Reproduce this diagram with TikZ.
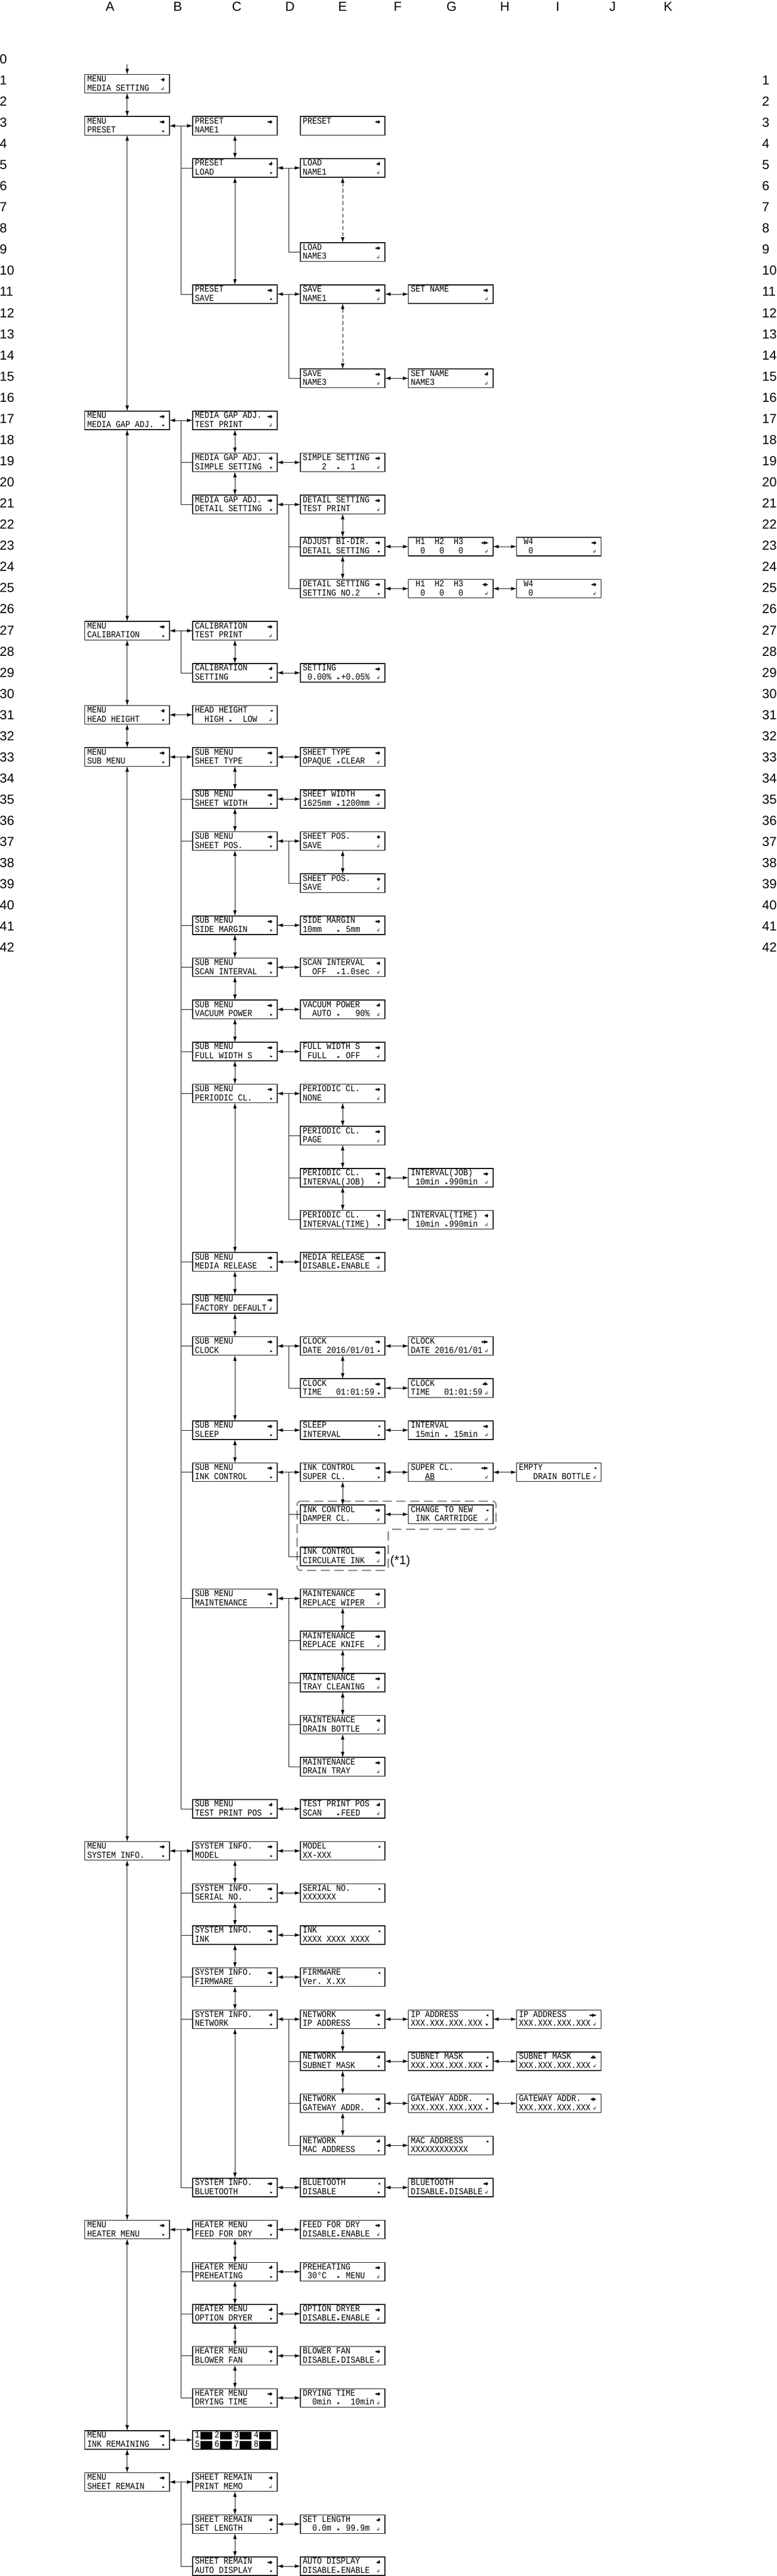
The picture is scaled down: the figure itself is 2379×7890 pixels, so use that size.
\documentclass[tikz,border=0pt]{standalone}
\usepackage{fontspec}
\setmainfont{Liberation Sans}
\newfontfamily\lcdf[FakeStretch=0.87]{Liberation Mono}
\newfontfamily\symf{DejaVu Sans}
\usetikzlibrary{arrows.meta,calc}
\newcommand\lcd{\lcdf\fontsize{28}{28}\selectfont}
\newcommand\sy{\symf\fontsize{14}{14}\selectfont}
\newcommand\lcdar{\makebox[15.14pt]{\symf\fontsize{14}{14}\selectfont ▸}}
\newcommand\udst{\ooalign{\raisebox{0.3em}{▴}\cr\raisebox{-0.15em}{▾}}}
\newcommand\iLR{◂\kern-1pt◆}
\newcommand\iUD{◂\kern-1pt\udst}
\newcommand\iL{◂}
\newcommand\iD{◆}
\newcommand\iLDR{◂\kern-1pt◆\kern-1pt▸}
\newcommand\iLUDR{◂\kern-1pt\udst\kern-1pt▸}
\newcommand\iR{▸}
\newcommand\iE{↲}
\newcommand\blk{\hspace{1.5pt}\rule[-5pt]{37pt}{23pt}\hspace{6.9pt}}
\def\cA{260}\def\cC{590}\def\cE{920}\def\cG{1251}\def\cI{1582}
\newcommand\bx[7]{%
  \node[lcdbox] (#1) at (#2+129.5,256.5+128.87*#3) {};
  \node[txt] (#1t1) at ([xshift=7pt,yshift=-22pt]#1.north west) {#4};
  \node[txt] (#1t2) at ([xshift=7pt,yshift=-50pt]#1.north west) {#5};
  \node[icn] (#1i1) at ([xshift=245pt,yshift=-21pt]#1.north west) {#6};
  \node[icn] (#1i2) at ([xshift=245pt,yshift=-49pt]#1.north west) {#7};
}
\newcommand\cvv[2]{\draw[dbl] (#1.south) -- (#2.north);}
\newcommand\chh[2]{\draw[dbl] (#1.east) -- (#2.west);}
\newcommand\trk[3]{\foreach \c in {#3}{\draw[ln] ($(#1.east)!0.5!(#2.west)$) |- (\c.west);}}
\tikzset{
 lcdbox/.style={draw, line width=2.2pt, minimum width=259pt, minimum height=57pt, inner sep=0pt, outer sep=0pt},
 txt/.style={anchor=base west, inner sep=0pt, font=\lcd},
 icn/.style={anchor=base east, inner sep=0pt, font=\sy},
 dbl/.style={{Latex[length=17pt,width=11pt]}-{Latex[length=17pt,width=11pt]}, line width=1.2pt},
 ln/.style={line width=1.1pt},
 dsh/.style={dbl, dash pattern=on 12pt off 7pt},
 grp/.style={draw=black!45, line width=4pt, dash pattern=on 28pt off 14pt, rounded corners=10pt},
 grid/.style={font=\fontsize{40}{40}\selectfont, inner sep=0pt},
}
\begin{document}
\begin{tikzpicture}[x=1pt,y=-1pt]
\fill[white] (0,0) rectangle (2379,7890);
\useasboundingbox (0,0) rectangle (2379,7890);
% grid references
\foreach \l/\x in {A/337,B/544,C/725,D/888,E/1049,F/1218,G/1383,H/1546,I/1708,J/1876,K/2046}
  \node[grid, anchor=base] (T\l) at (\x,33.5) {\l};
\foreach \k in {0,...,42}
  \node[grid, anchor=base west] (L\k) at (-1,194.5+64.8*\k) {\k};
\foreach \k in {1,...,42}
  \node[grid, anchor=base west] (R\k) at (2334,194.5+64.8*\k) {\k};
% dashed group
\draw[grp] (910,4598) -- (1519,4598) -- (1519,4684) -- (1189,4684) -- (1189,4810) -- (910,4810) -- cycle;
\node[anchor=west, inner sep=0pt, font=\fontsize{38}{38}\selectfont] (note1) at (1195,4782) {(*1)};
% boxes
\bx{A0}{\cA}{0}{MENU}{MEDIA~SETTING}{\iUD}{\iE}
\bx{A1}{\cA}{1}{MENU}{PRESET}{\iLR}{\iR}
\bx{C1}{\cC}{1}{PRESET}{NAME1}{\iLR}{}
\bx{E1}{\cE}{1}{PRESET}{}{\iLR}{}
\bx{C2}{\cC}{2}{PRESET}{LOAD}{\iUD}{\iR}
\bx{E2}{\cE}{2}{LOAD}{NAME1}{\iUD}{\iE}
\bx{E4}{\cE}{4}{LOAD}{NAME3}{\iLR}{\iE}
\bx{C5}{\cC}{5}{PRESET}{SAVE}{\iLR}{\iR}
\bx{E5}{\cE}{5}{SAVE}{NAME1}{\iLR}{\iE}
\bx{G5}{\cG}{5}{SET~NAME}{}{\iLR}{\iE}
\bx{E7}{\cE}{7}{SAVE}{NAME3}{\iLR}{\iE}
\bx{G7}{\cG}{7}{SET~NAME}{NAME3}{\iUD}{\iE}
\bx{A8}{\cA}{8}{MENU}{MEDIA~GAP~ADJ.}{\iLR}{\iR}
\bx{C8}{\cC}{8}{MEDIA~GAP~ADJ.}{TEST~PRINT}{\iLR}{\iE}
\bx{C9}{\cC}{9}{MEDIA~GAP~ADJ.}{SIMPLE~SETTING}{\iUD}{\iR}
\bx{E9}{\cE}{9}{SIMPLE~SETTING}{~~~~2~~\lcdar~~1}{\iLR}{\iE}
\bx{C10}{\cC}{10}{MEDIA~GAP~ADJ.}{DETAIL~SETTING}{\iLR}{\iR}
\bx{E10}{\cE}{10}{DETAIL~SETTING}{TEST~PRINT}{\iLR}{\iE}
\bx{E11}{\cE}{11}{ADJUST~BI-DIR.}{DETAIL~SETTING}{\iLR}{\iR}
\bx{G11}{\cG}{11}{~H1~~H2~~H3}{~~0~~~0~~~0}{\iLDR}{\iE}
\bx{I11}{\cI}{11}{~W4}{~~0}{\iLR}{\iE}
\bx{E12}{\cE}{12}{DETAIL~SETTING}{SETTING~NO.2}{\iLR}{\iR}
\bx{G12}{\cG}{12}{~H1~~H2~~H3}{~~0~~~0~~~0}{\iLUDR}{\iE}
\bx{I12}{\cI}{12}{~W4}{~~0}{\iLR}{\iE}
\bx{A13}{\cA}{13}{MENU}{CALIBRATION}{\iLR}{\iR}
\bx{C13}{\cC}{13}{CALIBRATION}{TEST~PRINT}{\iLR}{\iE}
\bx{C14}{\cC}{14}{CALIBRATION}{SETTING}{\iUD}{\iR}
\bx{E14}{\cE}{14}{SETTING}{~0.00\%~\lcdar+0.05\%}{\iLR}{\iE}
\bx{A15}{\cA}{15}{MENU}{HEAD~HEIGHT}{\iUD}{\iR}
\bx{C15}{\cC}{15}{HEAD~HEIGHT}{~~HIGH~\lcdar~~LOW}{\iL}{\iE}
\bx{A16}{\cA}{16}{MENU}{SUB~MENU}{\iLR}{\iR}
\bx{C16}{\cC}{16}{SUB~MENU}{SHEET~TYPE}{\iLR}{\iR}
\bx{E16}{\cE}{16}{SHEET~TYPE}{OPAQUE~\lcdar CLEAR}{\iLR}{\iE}
\bx{C17}{\cC}{17}{SUB~MENU}{SHEET~WIDTH}{\iLR}{\iR}
\bx{E17}{\cE}{17}{SHEET~WIDTH}{1625mm~\lcdar 1200mm}{\iLR}{\iE}
\bx{C18}{\cC}{18}{SUB~MENU}{SHEET~POS.}{\iLR}{\iR}
\bx{E18}{\cE}{18}{SHEET~POS.}{SAVE}{\iD}{\iE}
\bx{E19}{\cE}{19}{SHEET~POS.}{SAVE}{\iD}{\iE}
\bx{C20}{\cC}{20}{SUB~MENU}{SIDE~MARGIN}{\iLR}{\iR}
\bx{E20}{\cE}{20}{SIDE~MARGIN}{10mm~~~\lcdar~5mm}{\iLR}{\iE}
\bx{C21}{\cC}{21}{SUB~MENU}{SCAN~INTERVAL}{\iLR}{\iR}
\bx{E21}{\cE}{21}{SCAN~INTERVAL}{~~OFF~~\lcdar 1.0sec}{\iUD}{\iE}
\bx{C22}{\cC}{22}{SUB~MENU}{VACUUM~POWER}{\iLR}{\iR}
\bx{E22}{\cE}{22}{VACUUM~POWER}{~~AUTO~\lcdar~~~90\%}{\iUD}{\iE}
\bx{C23}{\cC}{23}{SUB~MENU}{FULL~WIDTH~S}{\iLR}{\iR}
\bx{E23}{\cE}{23}{FULL~WIDTH~S}{~FULL~~\lcdar~OFF}{\iLR}{\iE}
\bx{C24}{\cC}{24}{SUB~MENU}{PERIODIC~CL.}{\iLR}{\iR}
\bx{E24}{\cE}{24}{PERIODIC~CL.}{NONE}{\iLR}{\iE}
\bx{E25}{\cE}{25}{PERIODIC~CL.}{PAGE}{\iLR}{\iE}
\bx{E26}{\cE}{26}{PERIODIC~CL.}{INTERVAL(JOB)}{\iLR}{\iR}
\bx{G26}{\cG}{26}{INTERVAL(JOB)}{~10min~\lcdar 990min}{\iLR}{\iE}
\bx{E27}{\cE}{27}{PERIODIC~CL.}{INTERVAL(TIME)}{\iUD}{\iR}
\bx{G27}{\cG}{27}{INTERVAL(TIME)}{~10min~\lcdar 990min}{\iUD}{\iE}
\bx{C28}{\cC}{28}{SUB~MENU}{MEDIA~RELEASE}{\iLR}{\iR}
\bx{E28}{\cE}{28}{MEDIA~RELEASE}{DISABLE\lcdar ENABLE}{\iLR}{\iE}
\bx{C29}{\cC}{29}{SUB~MENU}{FACTORY~DEFAULT}{\iLR}{\iE}
\bx{C30}{\cC}{30}{SUB~MENU}{CLOCK}{\iLR}{\iR}
\bx{E30}{\cE}{30}{CLOCK}{DATE~2016/01/01}{\iLR}{\iR}
\bx{G30}{\cG}{30}{CLOCK}{DATE~2016/01/01}{\iLDR}{\iE}
\bx{E31}{\cE}{31}{CLOCK}{TIME~~~01:01:59}{\iLR}{\iR}
\bx{G31}{\cG}{31}{CLOCK}{TIME~~~01:01:59}{\iLUDR}{\iE}
\bx{C32}{\cC}{32}{SUB~MENU}{SLEEP}{\iLR}{\iR}
\bx{E32}{\cE}{32}{SLEEP}{INTERVAL}{\iL}{\iR}
\bx{G32}{\cG}{32}{INTERVAL}{~15min~\lcdar~15min}{\iLR}{\iE}
\bx{C33}{\cC}{33}{SUB~MENU}{INK~CONTROL}{\iLR}{\iR}
\bx{E33}{\cE}{33}{INK~CONTROL}{SUPER~CL.}{\iLR}{\iR}
\bx{G33}{\cG}{33}{SUPER~CL.}{~~~\underline{AB}}{\iLDR}{\iE}
\bx{I33}{\cI}{33}{EMPTY}{~~~DRAIN~BOTTLE}{\iL}{\iE}
\bx{E34}{\cE}{34}{INK~CONTROL}{DAMPER~CL.}{\iLR}{\iE}
\bx{G34}{\cG}{34}{CHANGE~TO~NEW}{~INK~CARTRIDGE}{\iL}{\iE}
\bx{E35}{\cE}{35}{INK~CONTROL}{CIRCULATE~INK}{\iLR}{\iE}
\bx{C36}{\cC}{36}{SUB~MENU}{MAINTENANCE}{\iLR}{\iR}
\bx{E36}{\cE}{36}{MAINTENANCE}{REPLACE~WIPER}{\iLR}{\iE}
\bx{E37}{\cE}{37}{MAINTENANCE}{REPLACE~KNIFE}{\iLR}{\iE}
\bx{E38}{\cE}{38}{MAINTENANCE}{TRAY~CLEANING}{\iLR}{\iE}
\bx{E39}{\cE}{39}{MAINTENANCE}{DRAIN~BOTTLE}{\iUD}{\iE}
\bx{E40}{\cE}{40}{MAINTENANCE}{DRAIN~TRAY}{\iLR}{\iE}
\bx{C41}{\cC}{41}{SUB~MENU}{TEST~PRINT~POS}{\iUD}{\iR}
\bx{E41}{\cE}{41}{TEST~PRINT~POS}{SCAN~~~\lcdar FEED}{\iUD}{\iE}
\bx{A42}{\cA}{42}{MENU}{SYSTEM~INFO.}{\iLR}{\iR}
\bx{C42}{\cC}{42}{SYSTEM~INFO.}{MODEL}{\iLR}{\iR}
\bx{E42}{\cE}{42}{MODEL}{XX-XXX}{\iL}{}
\bx{C43}{\cC}{43}{SYSTEM~INFO.}{SERIAL~NO.}{\iLR}{\iR}
\bx{E43}{\cE}{43}{SERIAL~NO.}{XXXXXXX}{\iL}{}
\bx{C44}{\cC}{44}{SYSTEM~INFO.}{INK}{\iLR}{\iR}
\bx{E44}{\cE}{44}{INK}{XXXX~XXXX~XXXX}{\iL}{}
\bx{C45}{\cC}{45}{SYSTEM~INFO.}{FIRMWARE}{\iLR}{\iR}
\bx{E45}{\cE}{45}{FIRMWARE}{Ver.~X.XX}{\iL}{}
\bx{C46}{\cC}{46}{SYSTEM~INFO.}{NETWORK}{\iUD}{\iR}
\bx{E46}{\cE}{46}{NETWORK}{IP~ADDRESS}{\iLR}{\iR}
\bx{G46}{\cG}{46}{IP~ADDRESS}{XXX.XXX.XXX.XXX}{\iL}{\iR}
\bx{I46}{\cI}{46}{IP~ADDRESS}{XXX.XXX.XXX.XXX}{\iLDR}{\iE}
\bx{E47}{\cE}{47}{NETWORK}{SUBNET~MASK}{\iUD}{\iR}
\bx{G47}{\cG}{47}{SUBNET~MASK}{XXX.XXX.XXX.XXX}{\iL}{\iR}
\bx{I47}{\cI}{47}{SUBNET~MASK}{XXX.XXX.XXX.XXX}{\iLUDR}{\iE}
\bx{E48}{\cE}{48}{NETWORK}{GATEWAY~ADDR.}{\iLR}{\iR}
\bx{G48}{\cG}{48}{GATEWAY~ADDR.}{XXX.XXX.XXX.XXX}{\iL}{\iR}
\bx{I48}{\cI}{48}{GATEWAY~ADDR.}{XXX.XXX.XXX.XXX}{\iLUDR}{\iE}
\bx{E49}{\cE}{49}{NETWORK}{MAC~ADDRESS}{\iUD}{\iR}
\bx{G49}{\cG}{49}{MAC~ADDRESS}{XXXXXXXXXXXX}{\iL}{}
\bx{C50}{\cC}{50}{SYSTEM~INFO.}{BLUETOOTH}{\iLR}{\iR}
\bx{E50}{\cE}{50}{BLUETOOTH}{DISABLE}{\iL}{\iR}
\bx{G50}{\cG}{50}{BLUETOOTH}{DISABLE\lcdar DISABLE}{\iLR}{\iE}
\bx{A51}{\cA}{51}{MENU}{HEATER~MENU}{\iLR}{\iR}
\bx{C51}{\cC}{51}{HEATER~MENU}{FEED~FOR~DRY}{\iLR}{\iR}
\bx{E51}{\cE}{51}{FEED~FOR~DRY}{DISABLE\lcdar ENABLE}{\iLR}{\iE}
\bx{C52}{\cC}{52}{HEATER~MENU}{PREHEATING}{\iUD}{\iR}
\bx{E52}{\cE}{52}{PREHEATING}{~30°C~~\lcdar~MENU}{\iLR}{\iE}
\bx{C53}{\cC}{53}{HEATER~MENU}{OPTION~DRYER}{\iUD}{\iR}
\bx{E53}{\cE}{53}{OPTION~DRYER}{DISABLE\lcdar ENABLE}{\iLR}{\iE}
\bx{C54}{\cC}{54}{HEATER~MENU}{BLOWER~FAN}{\iUD}{\iR}
\bx{E54}{\cE}{54}{BLOWER~FAN}{DISABLE\lcdar DISABLE}{\iLR}{\iE}
\bx{C55}{\cC}{55}{HEATER~MENU}{DRYING~TIME}{\iLR}{\iR}
\bx{E55}{\cE}{55}{DRYING~TIME}{~~0min~\lcdar~~10min}{\iLR}{\iE}
\bx{A56}{\cA}{56}{MENU}{INK~REMAINING}{\iLR}{\iR}
\bx{C56}{\cC}{56}{1\blk 2\blk 3\blk 4\blk}{5\blk 6\blk 7\blk 8\blk}{}{}
\bx{A57}{\cA}{57}{MENU}{SHEET~REMAIN}{\iLR}{\iR}
\bx{C57}{\cC}{57}{SHEET~REMAIN}{PRINT~MEMO}{\iUD}{\iE}
\bx{C58}{\cC}{58}{SHEET~REMAIN}{SET~LENGTH}{\iUD}{\iR}
\bx{E58}{\cE}{58}{SET~LENGTH}{~~0.0m~\lcdar~99.9m}{\iUD}{\iE}
\bx{C59}{\cC}{59}{SHEET~REMAIN}{AUTO~DISPLAY}{\iLR}{\iR}
\bx{E59}{\cE}{59}{AUTO~DISPLAY}{DISABLE\lcdar ENABLE}{\iUD}{\iE}
% main column
\coordinate (top) at (389.5,198);
\draw[ln, -{Latex[length=17pt,width=11pt]}] (top) -- (A0.north);
\cvv{A0}{A1}\cvv{A1}{A8}\cvv{A8}{A13}\cvv{A13}{A15}\cvv{A15}{A16}\cvv{A16}{A42}\cvv{A42}{A51}\cvv{A51}{A56}\cvv{A56}{A57}
% A-C horizontals
\chh{A1}{C1}\chh{A8}{C8}\chh{A13}{C13}\chh{A15}{C15}\chh{A16}{C16}\chh{A42}{C42}\chh{A51}{C51}\chh{A56}{C56}\chh{A57}{C57}
% A-C trunks
\trk{A1}{C1}{C2,C5}
\trk{A8}{C8}{C9,C10}
\trk{A13}{C13}{C14}
\trk{A16}{C16}{C17,C18,C20,C21,C22,C23,C24,C28,C29,C30,C32,C33,C36,C41}
\trk{A42}{C42}{C43,C44,C45,C46,C50}
\trk{A51}{C51}{C52,C53,C54,C55}
\trk{A57}{C57}{C58,C59}
% C verticals
\cvv{C1}{C2}\cvv{C2}{C5}\cvv{C8}{C9}\cvv{C9}{C10}\cvv{C13}{C14}
\cvv{C16}{C17}\cvv{C17}{C18}\cvv{C18}{C20}\cvv{C20}{C21}\cvv{C21}{C22}\cvv{C22}{C23}\cvv{C23}{C24}
\cvv{C24}{C28}\cvv{C28}{C29}\cvv{C29}{C30}\cvv{C30}{C32}\cvv{C32}{C33}
\cvv{C42}{C43}\cvv{C43}{C44}\cvv{C44}{C45}\cvv{C45}{C46}\cvv{C46}{C50}
\cvv{C51}{C52}\cvv{C52}{C53}\cvv{C53}{C54}\cvv{C54}{C55}
\cvv{C57}{C58}\cvv{C58}{C59}
% C-E horizontals
\foreach \r in {2,5,9,10,14,16,17,18,20,21,22,23,24,28,30,32,33,36,41,42,43,44,45,46,50,51,52,53,54,55,58,59}
  {\chh{C\r}{E\r}}
% C-E trunks
\trk{C2}{E2}{E4}
\trk{C5}{E5}{E7}
\trk{C10}{E10}{E11,E12}
\trk{C18}{E18}{E19}
\trk{C24}{E24}{E25,E26,E27}
\trk{C30}{E30}{E31}
\trk{C33}{E33}{E34,E35}
\trk{C36}{E36}{E37,E38,E39,E40}
\trk{C46}{E46}{E47,E48,E49}
% E verticals
\draw[dsh] (E2.south) -- (E4.north);
\draw[dsh] (E5.south) -- (E7.north);
\cvv{E10}{E11}\cvv{E11}{E12}\cvv{E18}{E19}\cvv{E24}{E25}\cvv{E25}{E26}\cvv{E26}{E27}
\cvv{E30}{E31}\cvv{E33}{E34}\cvv{E36}{E37}\cvv{E37}{E38}\cvv{E38}{E39}\cvv{E39}{E40}
\cvv{E46}{E47}\cvv{E47}{E48}\cvv{E48}{E49}
% E-G horizontals
\foreach \r in {5,7,11,12,26,27,30,31,32,33,34,46,47,48,49,50}
  {\chh{E\r}{G\r}}
% G-I horizontals
\foreach \r in {11,12,33,46,47,48}
  {\chh{G\r}{I\r}}
\end{tikzpicture}
\end{document}
